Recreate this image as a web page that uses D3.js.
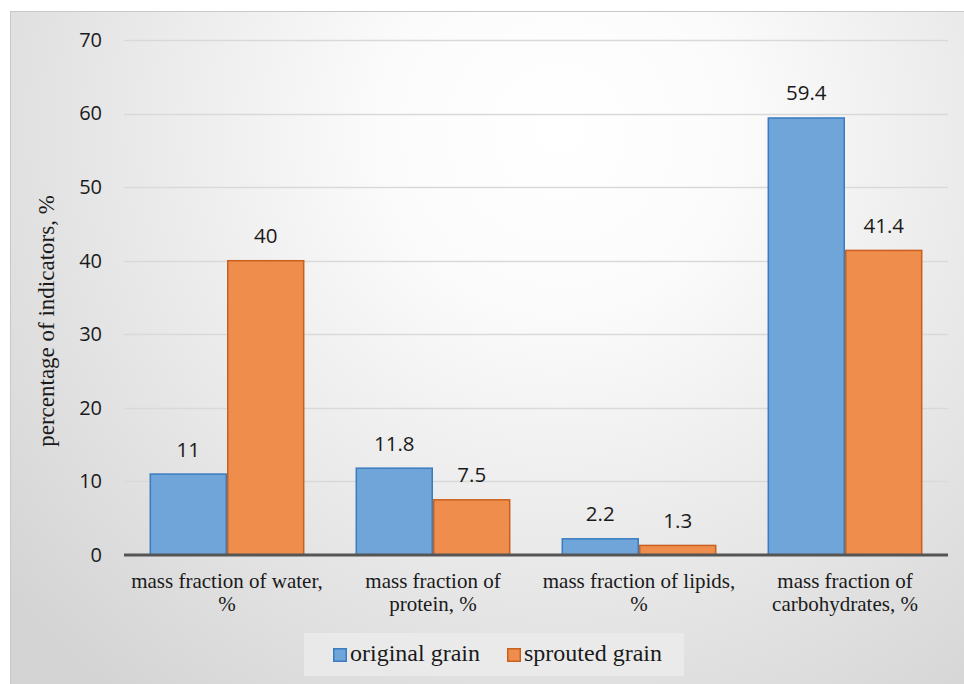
<!DOCTYPE html>
<html>
<head>
<meta charset="utf-8">
<script src="https://cdn.jsdelivr.net/npm/d3@7"></script>
<style>
  html, body { margin: 0; padding: 0; background: #ffffff; }
  svg { display: block; }
  .serif { font-family: "Liberation Serif", "DejaVu Serif", serif; }
  .sans { font-family: "Open Sans", "Noto Sans", sans-serif; }
</style>
</head>
<body>
<svg id="chart" width="964" height="684"></svg>
<script>
// Composition of grain before and after sprouting
const categories = [
  ["mass fraction of water,", "%"],
  ["mass fraction of", "protein, %"],
  ["mass fraction of lipids,", "%"],
  ["mass fraction of", "carbohydrates, %"]
];
const seriesNames = ["original grain", "sprouted grain"];
const originalGrain = [11, 11.8, 2.2, 59.4];
const sproutedGrain = [40, 7.5, 1.3, 41.4];
const yTicks = [0, 10, 20, 30, 40, 50, 60, 70];

const fills = ["#6fa5d8", "#ee8d4c"];
const strokes = ["#3a7cc0", "#c9601e"];

const svg = d3.select("#chart");
const defs = svg.append("defs");
const grad = defs.append("radialGradient")
  .attr("id", "bg").attr("gradientUnits", "userSpaceOnUse")
  .attr("cx", 560).attr("cy", 130).attr("r", 720);
grad.append("stop").attr("offset", "0").attr("stop-color", "#ffffff");
grad.append("stop").attr("offset", "0.25").attr("stop-color", "#fbfbfb");
grad.append("stop").attr("offset", "1").attr("stop-color", "#d4d4d4");

// chart area background and frame
svg.append("rect").attr("x", 10.5).attr("y", 11.5).attr("width", 960).attr("height", 680)
  .attr("fill", "url(#bg)").attr("stroke", "#c8c8c8").attr("stroke-width", 1);

const plot = { left: 124, right: 948, top: 40, bottom: 555 };

const x0 = d3.scaleBand().domain(d3.range(categories.length))
  .range([plot.left, plot.right]).paddingInner(0.248).paddingOuter(0.124);
const x1 = d3.scaleBand().domain(d3.range(seriesNames.length))
  .range([0, x0.bandwidth()]);
const y = d3.scaleLinear().domain([0, 70]).range([plot.bottom, plot.top]);

// gridlines
svg.append("g").selectAll("line").data(yTicks.filter(d => d > 0)).join("line")
  .attr("x1", plot.left).attr("x2", plot.right)
  .attr("y1", d => Math.round(y(d)) + 0.5).attr("y2", d => Math.round(y(d)) + 0.5)
  .attr("stroke", "#d9d9d9").attr("stroke-width", 1.5);

// y axis labels
const yAxis = d3.axisLeft(y).tickValues(yTicks).tickSize(0).tickPadding(0);
const yg = svg.append("g").attr("transform", `translate(${plot.left - 22},0)`).call(yAxis);
yg.select(".domain").remove();
yg.attr("font-family", null).attr("font-size", null);
yg.selectAll("text").attr("class", "sans")
  .style("font-size", "20px").attr("fill", "#1a1a1a");

// y axis title
svg.append("text").attr("class", "serif")
  .attr("transform", "translate(54,321) rotate(-90)")
  .attr("text-anchor", "middle")
  .style("font-size", "23px").attr("fill", "#1a1a1a")
  .text("percentage of indicators, %");

// bars
const series = [originalGrain, sproutedGrain];
const groups = svg.append("g").selectAll("g").data(categories).join("g")
  .attr("transform", (d, i) => `translate(${x0(i)},0)`);

groups.each(function (c, i) {
  const g = d3.select(this);
  series.forEach((vals, s) => {
    const v = vals[i];
    g.append("rect")
      .attr("x", x1(s) + 0.75).attr("y", y(v))
      .attr("width", x1.bandwidth() - 1.5).attr("height", y(0) - y(v))
      .attr("fill", fills[s]).attr("stroke", strokes[s]).attr("stroke-width", 1.5);
    g.append("text").attr("class", "sans")
      .attr("x", x1(s) + x1.bandwidth() / 2).attr("y", y(v) - 17.5)
      .attr("text-anchor", "middle")
      .style("font-size", "20.5px").attr("fill", "#1a1a1a")
      .text(v);
  });
});

// x axis baseline
svg.append("line").attr("x1", plot.left).attr("x2", plot.right)
  .attr("y1", y(0)).attr("y2", y(0))
  .attr("stroke", "#555555").attr("stroke-width", 3);

// category labels
const catLabels = svg.append("g").selectAll("text").data(categories).join("text")
  .attr("class", "serif")
  .attr("text-anchor", "middle")
  .style("font-size", "21px").attr("fill", "#1a1a1a");
catLabels.each(function (lines, i) {
  const t = d3.select(this);
  lines.forEach((ln, k) => {
    t.append("tspan").attr("x", x0(i) + x0.bandwidth() / 2)
      .attr("y", 588 + k * 23).text(ln);
  });
});

// legend
const legend = svg.append("g");
legend.append("rect").attr("x", 304).attr("y", 633).attr("width", 380).attr("height", 43)
  .attr("fill", "#ebebeb").attr("opacity", 0.85);
const legendX = [333, 507];
seriesNames.forEach((name, s) => {
  legend.append("rect").attr("x", legendX[s] + 0.75).attr("y", 648.75)
    .attr("width", 12.5).attr("height", 12.5)
    .attr("fill", fills[s]).attr("stroke", strokes[s]).attr("stroke-width", 1.5);
  legend.append("text").attr("class", "serif").attr("x", legendX[s] + 17).attr("y", 661)
    .style("font-size", "24px").attr("fill", "#1a1a1a")
    .text(name);
});
</script>
</body>
</html>
